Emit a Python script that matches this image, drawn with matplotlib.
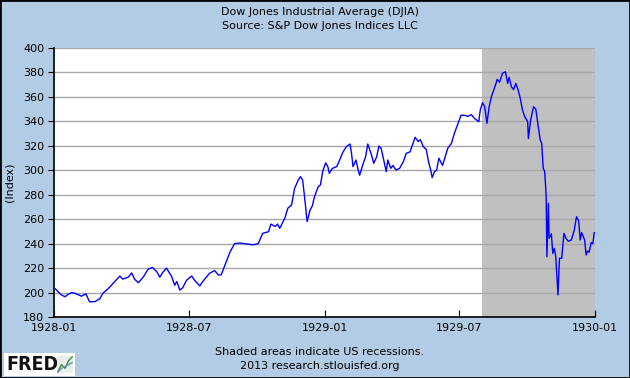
import pandas as pd
import matplotlib
matplotlib.use("Agg")
import matplotlib.pyplot as plt
from matplotlib.patches import Rectangle

# DJIA values (approximate)
dates = [
    "1928-01-03", "1928-01-06", "1928-01-11", "1928-01-16", "1928-01-20", "1928-01-25",
    "1928-01-31", "1928-02-07", "1928-02-13", "1928-02-18", "1928-02-25", "1928-03-03",
    "1928-03-07", "1928-03-14", "1928-03-21", "1928-03-30", "1928-04-03", "1928-04-10",
    "1928-04-15", "1928-04-19", "1928-04-24", "1928-05-01", "1928-05-07", "1928-05-13",
    "1928-05-19", "1928-05-23", "1928-05-27", "1928-06-01", "1928-06-08", "1928-06-12",
    "1928-06-15", "1928-06-19", "1928-06-23", "1928-06-28", "1928-07-05", "1928-07-09",
    "1928-07-16", "1928-07-20", "1928-07-29", "1928-08-05", "1928-08-10", "1928-08-14",
    "1928-08-19", "1928-08-26", "1928-09-01", "1928-09-08", "1928-09-17", "1928-09-26",
    "1928-10-03", "1928-10-09", "1928-10-17", "1928-10-20", "1928-10-26", "1928-10-29",
    "1928-11-01", "1928-11-08", "1928-11-12", "1928-11-17", "1928-11-21", "1928-11-26",
    "1928-11-29", "1928-12-02", "1928-12-05", "1928-12-08", "1928-12-12", "1928-12-15",
    "1928-12-18", "1928-12-23", "1928-12-26", "1928-12-29", "1929-01-02", "1929-01-05",
    "1929-01-07", "1929-01-11", "1929-01-17", "1929-01-21", "1929-01-25", "1929-01-30",
    "1929-02-04", "1929-02-06", "1929-02-08", "1929-02-12", "1929-02-15", "1929-02-17",
    "1929-02-21", "1929-02-25", "1929-02-28", "1929-03-05", "1929-03-08", "1929-03-12",
    "1929-03-15", "1929-03-18", "1929-03-21", "1929-03-25", "1929-03-27", "1929-03-31",
    "1929-04-03", "1929-04-07", "1929-04-12", "1929-04-17", "1929-04-21", "1929-04-26",
    "1929-04-30", "1929-05-03", "1929-05-07", "1929-05-10", "1929-05-14", "1929-05-18",
    "1929-05-21", "1929-05-24", "1929-05-26", "1929-05-29", "1929-06-01", "1929-06-04",
    "1929-06-09", "1929-06-12", "1929-06-16", "1929-06-21", "1929-06-25", "1929-06-30",
    "1929-07-04", "1929-07-09", "1929-07-13", "1929-07-18", "1929-07-22", "1929-07-28",
    "1929-07-30", "1929-08-02", "1929-08-05", "1929-08-08", "1929-08-11", "1929-08-14",
    "1929-08-18", "1929-08-22", "1929-08-25", "1929-08-29", "1929-09-02", "1929-09-05",
    "1929-09-07", "1929-09-10", "1929-09-13", "1929-09-16", "1929-09-19", "1929-09-22",
    "1929-09-25", "1929-09-28", "1929-10-02", "1929-10-03", "1929-10-06", "1929-10-10",
    "1929-10-13", "1929-10-16", "1929-10-19", "1929-10-21", "1929-10-23", "1929-10-25",
    "1929-10-27", "1929-10-28", "1929-10-30", "1929-10-31", "1929-11-03", "1929-11-05",
    "1929-11-07", "1929-11-09", "1929-11-12", "1929-11-14", "1929-11-17", "1929-11-20",
    "1929-11-23", "1929-11-26", "1929-11-30", "1929-12-04", "1929-12-07", "1929-12-10",
    "1929-12-12", "1929-12-14", "1929-12-18", "1929-12-20", "1929-12-22", "1929-12-24",
    "1929-12-27", "1929-12-29", "1929-12-31",
]
djia = [
    203.0, 201.0, 198.0, 196.6, 198.5, 200.0,
    199.0, 197.0, 199.0, 192.5, 192.5, 195.0,
    199.4, 203.0, 207.6, 213.5, 211.0, 212.5,
    216.0, 210.8, 208.0, 213.0, 219.0, 220.6,
    217.0, 212.5, 216.5, 220.0, 213.0, 206.0,
    209.0, 202.0, 204.0, 210.0, 213.5, 210.0,
    205.4, 209.0, 215.7, 218.0, 214.4, 214.5,
    222.5, 233.4, 240.0, 240.5, 239.8, 239.0,
    240.0, 248.4, 249.8, 256.0, 254.0, 256.0,
    252.5, 261.0, 269.0, 271.6, 285.0, 292.0,
    294.8, 292.0, 275.7, 258.0, 267.5, 270.8,
    278.4, 286.6, 288.0, 298.8, 306.0, 303.0,
    297.5, 301.5, 303.0, 308.4, 314.4, 319.3,
    321.5, 313.9, 303.0, 308.4, 300.2, 296.0,
    304.0, 311.0, 321.5, 312.5, 305.7, 311.0,
    319.8, 318.0, 309.8, 298.8, 308.4, 301.6,
    304.0, 300.2, 301.6, 307.0, 313.9, 315.0,
    322.0, 327.0, 323.5, 325.0, 319.3, 317.0,
    307.0, 300.2, 294.0, 298.8, 300.0, 309.8,
    304.0, 309.8, 318.0, 322.0, 330.2, 338.4,
    345.0, 345.0, 344.0, 345.5, 342.5, 339.7,
    349.3, 355.3, 352.0, 338.4, 352.0, 360.2,
    367.0, 374.4, 372.0, 379.3, 380.6, 371.0,
    376.0, 368.4, 366.0, 371.0, 366.0, 358.9,
    349.3, 343.8, 340.0, 326.0, 341.0, 352.0,
    350.0, 337.0, 324.8, 322.0, 301.6, 299.0,
    279.8, 229.3, 273.0, 244.4, 248.0, 232.0,
    236.0, 229.3, 198.0, 228.0, 228.0, 248.4,
    244.0, 242.0, 243.0, 251.0, 262.0, 258.5,
    243.0, 249.0, 243.0, 230.7, 234.0, 233.0,
    241.0, 240.0, 249.0,
]
recession_start = "1929-08-01"
recession_end = "1930-01-01"
xtick_dates = ["1928-01-01", "1928-07-01", "1929-01-01", "1929-07-01", "1930-01-01"]
xtick_labels = ["1928-01", "1928-07", "1929-01", "1929-07", "1930-01"]
yticks = list(range(180, 401, 20))

BG = "#b3cce5"


def main() -> None:
    df = pd.DataFrame({"date": pd.to_datetime(dates), "djia": djia})

    fig = plt.figure(figsize=(6.3, 3.78), dpi=100, facecolor=BG)
    fig.patches.append(Rectangle((0, 0), 1, 1, transform=fig.transFigure,
                                 fill=False, edgecolor="black", linewidth=2))
    ax = fig.add_axes([54 / 630, 61 / 378, 541 / 630, 269 / 378])
    ax.set_facecolor("white")

    ax.axvspan(pd.Timestamp(recession_start), pd.Timestamp(recession_end),
               color="#c0c0c0", linewidth=0, zorder=1)
    for y in yticks[1:]:
        ax.axhline(y, color="#a8a8a8", linewidth=1, zorder=2)
    ax.plot(df["date"], df["djia"], color="#0000ff", linewidth=1, zorder=3)

    ax.set_xlim(pd.Timestamp(xtick_dates[0]), pd.Timestamp(xtick_dates[-1]))
    ax.set_ylim(180, 400)
    ax.set_yticks(yticks)
    ax.set_xticks(pd.to_datetime(xtick_dates))
    ax.set_xticklabels(xtick_labels)
    ax.tick_params(axis="y", direction="out", length=4, labelsize=8, pad=3)
    ax.tick_params(axis="x", direction="in", length=5, labelsize=8, pad=4)
    for side in ["top", "right"]:
        ax.spines[side].set_visible(False)
    for side in ["left", "bottom"]:
        ax.spines[side].set_color("black")
        ax.spines[side].set_linewidth(1.2)
    ax.set_ylabel("(Index)", fontsize=8, labelpad=6)

    fig.text(0.508, 1 - 12 / 378, "Dow Jones Industrial Average (DJIA)",
             ha="center", va="center", fontsize=8)
    fig.text(0.508, 1 - 26 / 378, "Source: S&P Dow Jones Indices LLC",
             ha="center", va="center", fontsize=8)
    fig.text(0.508, 1 - 352 / 378, "Shaded areas indicate US recessions.",
             ha="center", va="center", fontsize=8)
    fig.text(0.508, 1 - 366 / 378, "2013 research.stlouisfed.org",
             ha="center", va="center", fontsize=8)

    # FRED logo box
    fig.patches.append(Rectangle((4 / 630, 2 / 378), 71 / 630, 23 / 378,
                                 transform=fig.transFigure, facecolor="white",
                                 edgecolor="none"))
    fig.text(6 / 630, 1 - 364 / 378, "FRED", ha="left", va="center",
             fontsize=14, fontweight="bold", color="#111111",
             fontstretch="condensed", family="Liberation Sans Narrow")
    icon = fig.add_axes([57 / 630, 5 / 378, 16 / 630, 17 / 378], zorder=5)
    icon.plot([0, 1, 2, 3, 4], [0, 2, 1, 3, 4], color="#3a8a3a", linewidth=1)
    icon.plot([0, 1, 2, 3, 4], [0, 1, 1.5, 2, 2.5], color="#6a8fc0", linewidth=1)
    icon.set_xticks([])
    icon.set_yticks([])
    for s in icon.spines.values():
        s.set_visible(False)
    icon.set_facecolor("#e8efe8")

    fig.savefig("out.png", dpi=100, facecolor=BG)
    plt.close(fig)


if __name__ == "__main__":
    main()
